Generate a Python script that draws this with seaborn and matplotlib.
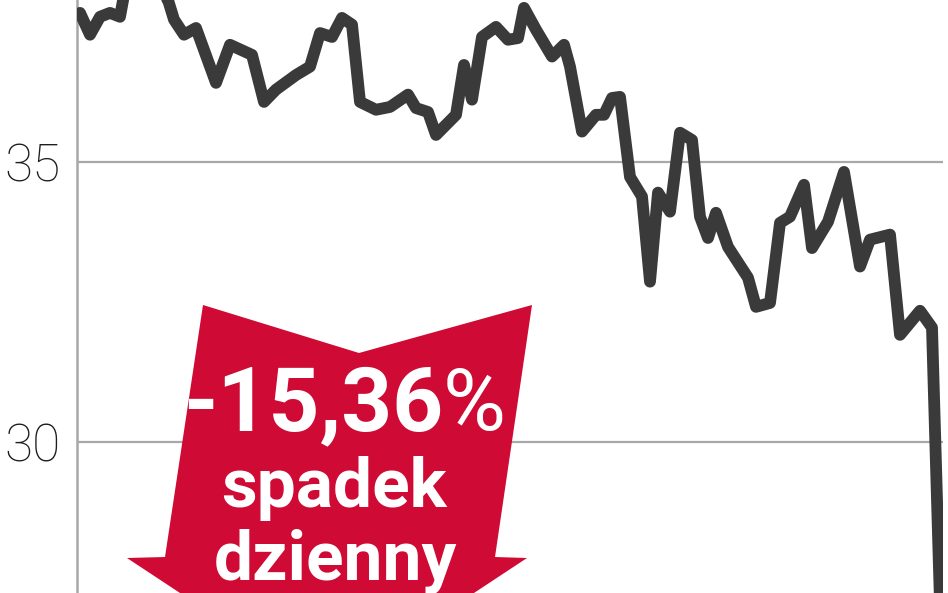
import pandas as pd
import matplotlib
matplotlib.use("Agg")
import matplotlib.pyplot as plt
from matplotlib.patches import Polygon
import seaborn as sns

sns.set_theme(style="white")
plt.rcParams["font.family"] = ["Roboto", "DejaVu Sans"]

# ---------------------------------------------------------
# DATA
# ---------------------------------------------------------
days = [0, 5, 10, 15, 20, 22, 30, 38, 44, 47, 52, 58, 68, 75, 86, 92, 98,
        108, 115, 120, 126, 131, 136, 140, 148, 155, 164, 168, 174, 178,
        188, 192, 196, 201, 208, 214, 219, 222, 228, 236, 242, 245, 251,
        258, 262, 266, 270, 275, 281, 285, 289, 295, 300, 306, 310, 314,
        318, 324, 334, 338, 345, 350, 355, 362, 366, 374, 382, 390, 395,
        405, 410, 420, 426, 430]
prices = [37.66, 37.27, 37.59, 37.66, 37.59, 37.98, 38.25, 38.11, 37.89,
          37.54, 37.27, 37.39, 36.41, 37.09, 36.91, 36.07, 36.29, 36.55,
          36.70, 37.30, 37.23, 37.57, 37.45, 36.07, 35.93, 35.98, 36.20,
          35.96, 35.89, 35.48, 35.84, 36.73, 36.11, 37.23, 37.41, 37.18,
          37.21, 37.75, 37.36, 36.88, 37.09, 36.70, 35.54, 35.84, 35.84,
          36.14, 36.16, 34.73, 34.38, 32.86, 34.45, 34.11, 35.52, 35.39,
          34.02, 33.64, 34.09, 33.48, 32.93, 32.41, 32.48, 33.91, 34.02,
          34.59, 33.46, 33.93, 34.82, 33.13, 33.61, 33.70, 31.91, 32.34,
          32.04, 27.12]
y_ticks = [30, 35]
change_label = "-15,36"
change_unit = "%"
caption = ["spadek", "dzienny"]

df = pd.DataFrame({"dzien": days, "kurs": prices})

W, H = 948, 593


def px(x, y):
    return x / W, 1 - y / H


fig = plt.figure(figsize=(W / 100, H / 100), dpi=100)
ax = fig.add_axes([77 / W, 0, (943 - 77) / W, 1])

sns.lineplot(data=df, x="dzien", y="kurs", ax=ax, color="#3a3a3a",
             linewidth=8.5, solid_joinstyle="round", solid_capstyle="round",
             zorder=4)

ax.set_xlim(-1.5, 431.5)
ax.set_ylim(27.30, 37.89)
ax.set_yticks(y_ticks)
ax.set_xticks([])
ax.set_xlabel("")
ax.set_ylabel("")
ax.yaxis.grid(True, color="#a8a8a8", linewidth=1.6)
ax.tick_params(axis="y", length=0, pad=12, labelsize=37, labelcolor="#1e1e1e")
for lab in ax.get_yticklabels():
    lab.set_fontweight("light")
for side in ["top", "right", "bottom"]:
    ax.spines[side].set_visible(False)
ax.spines["left"].set_color("#a8a8a8")
ax.spines["left"].set_linewidth(1.8)

# red arrow badge
arrow_px = [(203, 305), (359, 353), (532, 305), (495, 557), (527, 558),
            (327, 690), (127, 558), (165, 557)]
arrow = Polygon([px(x, y) for x, y in arrow_px], closed=True,
                transform=fig.transFigure, facecolor="#cf0a34",
                edgecolor="none", zorder=5, clip_on=False)
fig.patches.append(arrow)

fig.text(*px(443, 430), change_label, color="white", fontsize=64,
         fontweight="bold", ha="right", va="baseline", zorder=6)
fig.text(*px(443, 430), change_unit, color="white", fontsize=62,
         fontweight="normal", ha="left", va="baseline", zorder=6)
fig.text(*px(334, 507), caption[0], color="white", fontsize=50,
         fontweight="bold", ha="center", va="baseline", zorder=6)
fig.text(*px(335, 580), caption[1], color="white", fontsize=50,
         fontweight="bold", ha="center", va="baseline", zorder=6)

fig.savefig("out.png", dpi=100)
